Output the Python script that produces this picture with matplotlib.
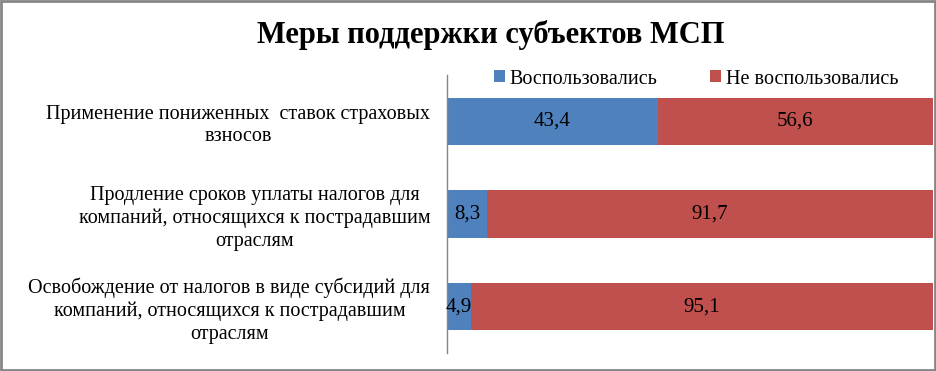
import matplotlib.pyplot as plt
from matplotlib.patches import Rectangle

# data
categories = [
    "Применение пониженных  ставок страховых\nвзносов",
    "Продление сроков уплаты налогов для\nкомпаний, относящихся к пострадавшим\nотраслям",
    "Освобождение от налогов в виде субсидий для\nкомпаний, относящихся к пострадавшим\nотраслям",
]
used = [43.4, 8.3, 4.9]
not_used = [56.6, 91.7, 95.1]
series_names = ["Воспользовались", "Не воспользовались"]
colors = ["#4F81BD", "#C0504D"]

plt.rcParams['font.family'] = ['Liberation Serif', 'DejaVu Serif']

fig = plt.figure(figsize=(9.36, 3.71), dpi=100)
ax = fig.add_axes([447 / 936, 18 / 371, 486 / 936, 278 / 371])

y = list(range(len(categories)))
b1 = ax.barh(y, used, height=0.51, color=colors[0], label=series_names[0])
b2 = ax.barh(y, not_used, left=used, height=0.51, color=colors[1], label=series_names[1])

# value labels
for bars, vals in ((b1, used), (b2, not_used)):
    labels = [f"{v:.1f}".replace(".", ",") for v in vals]
    ax.bar_label(bars, labels=labels, label_type='center', fontsize=15, color='black')

ax.set_xlim(0, 100)
ax.set_ylim(len(categories) - 0.5, -0.5)
ax.set_yticks(y)
ax.set_yticklabels(categories, fontsize=14.5, multialignment='center', linespacing=1.25)
ax.tick_params(axis='y', length=0, pad=12)
ax.set_xticks([])

for side in ('top', 'right', 'bottom'):
    ax.spines[side].set_visible(False)
ax.spines['left'].set_color('#868686')
ax.spines['left'].set_linewidth(1)

fig.suptitle("Меры поддержки субъектов МСП", x=491 / 936, y=1 - 35 / 371, va='center',
             fontsize=22, fontweight='bold')

fig.legend(loc='center', bbox_to_anchor=(696 / 936, 1 - 79 / 371), ncol=2, frameon=False,
           fontsize=14.5, handlelength=0.55, handleheight=0.55, handletextpad=0.25,
           columnspacing=2.6)

# gray border around the figure
fig.patches.append(Rectangle((0.0015, 0.003), 0.997, 0.994, transform=fig.transFigure,
                             fill=False, edgecolor='#868686', linewidth=2))

fig.savefig("out.png", dpi=100)
